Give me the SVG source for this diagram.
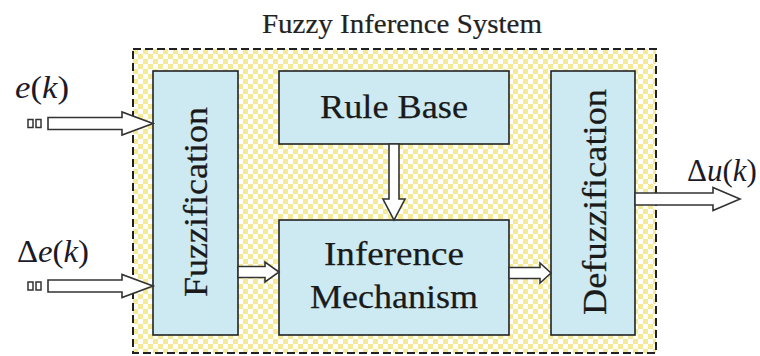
<svg xmlns="http://www.w3.org/2000/svg" width="760" height="356" viewBox="0 0 760 356">
<defs>
<pattern id="chk" x="133" y="49" width="10" height="10" patternUnits="userSpaceOnUse">
<rect width="10" height="10" fill="#ffffff"/>
<rect width="5" height="5" fill="#f5ea98"/>
<rect x="5" y="5" width="5" height="5" fill="#f5ea98"/>
</pattern>
<style>
.blk{fill:#cdeaf2;stroke:#222;stroke-width:1.6}
.lbl{font-family:"Liberation Serif","Times New Roman",serif;font-size:34px;fill:#1a1a1a;stroke:#1a1a1a;stroke-width:0.25}
.arr{fill:#fff;stroke:#333;stroke-width:1.6;stroke-linejoin:miter}
.sq{fill:#fff;stroke:#333;stroke-width:1.5}
.var{font-family:"Liberation Serif","Times New Roman",serif;font-size:31px;fill:#1a1a2a}
</style>
</defs>
<g id="system">
<rect x="133" y="49" width="523" height="304" fill="url(#chk)" stroke="#222" stroke-width="2" stroke-dasharray="8,4"/>
<text x="402" y="33" text-anchor="middle" font-family="'Liberation Serif','Times New Roman',serif" font-size="27" fill="#222" stroke="#222" stroke-width="0.2" textLength="280" lengthAdjust="spacingAndGlyphs">Fuzzy Inference System</text>
</g>
<g id="fuzzification">
<rect class="blk" x="153" y="71" width="85" height="264"/>
<text class="lbl" transform="translate(207,202) rotate(-90)" text-anchor="middle" textLength="190" lengthAdjust="spacingAndGlyphs">Fuzzification</text>
</g>
<g id="rulebase">
<rect class="blk" x="279" y="71" width="230" height="73"/>
<text class="lbl" x="394" y="118" text-anchor="middle" textLength="148" lengthAdjust="spacingAndGlyphs">Rule Base</text>
</g>
<g id="inference">
<rect class="blk" x="279" y="220" width="230" height="115"/>
<text class="lbl" x="394" y="265" text-anchor="middle" textLength="140" lengthAdjust="spacingAndGlyphs">Inference</text>
<text class="lbl" x="394" y="308" text-anchor="middle" textLength="168" lengthAdjust="spacingAndGlyphs">Mechanism</text>
</g>
<g id="defuzzification">
<rect class="blk" x="551" y="71" width="84" height="264"/>
<text class="lbl" transform="translate(606,202) rotate(-90)" text-anchor="middle" textLength="226" lengthAdjust="spacingAndGlyphs">Defuzzification</text>
</g>
<g id="labels">
<text class="var" x="15" y="98" textLength="54" lengthAdjust="spacingAndGlyphs"><tspan font-style="italic">e</tspan>(<tspan font-style="italic">k</tspan>)</text>
<text class="var" x="17" y="262" textLength="72" lengthAdjust="spacingAndGlyphs">Δ<tspan font-style="italic">e</tspan>(<tspan font-style="italic">k</tspan>)</text>
<text class="var" x="687" y="181" font-size="29">Δ<tspan font-style="italic">u</tspan>(<tspan font-style="italic">k</tspan>)</text>
</g>
<g id="connectors">
<rect class="sq" x="28" y="119.5" width="5" height="8"/>
<rect class="sq" x="36" y="119.5" width="5" height="8"/>
<path class="arr" d="M48,117.5 H122 V112 L153,123.5 L122,135 V129.5 H48 Z"/>
<rect class="sq" x="28" y="282" width="5" height="8"/>
<rect class="sq" x="36" y="282" width="5" height="8"/>
<path class="arr" d="M48,280 H122 V274.5 L153,286 L122,297.5 V292 H48 Z"/>
<path class="arr" d="M238,266.5 H265 V262 L279,272 L265,282 V277.5 H238 Z"/>
<path class="arr" d="M509,267.5 H540 V263 L551,273 L540,283 V278.5 H509 Z"/>
<path class="arr" d="M389,144 V199 H383 L394,220 L405,199 H399 V144 Z"/>
<path class="arr" d="M635,193 H713 V187.5 L740,199 L713,210.5 V205 H635 Z"/>
</g>
</svg>
